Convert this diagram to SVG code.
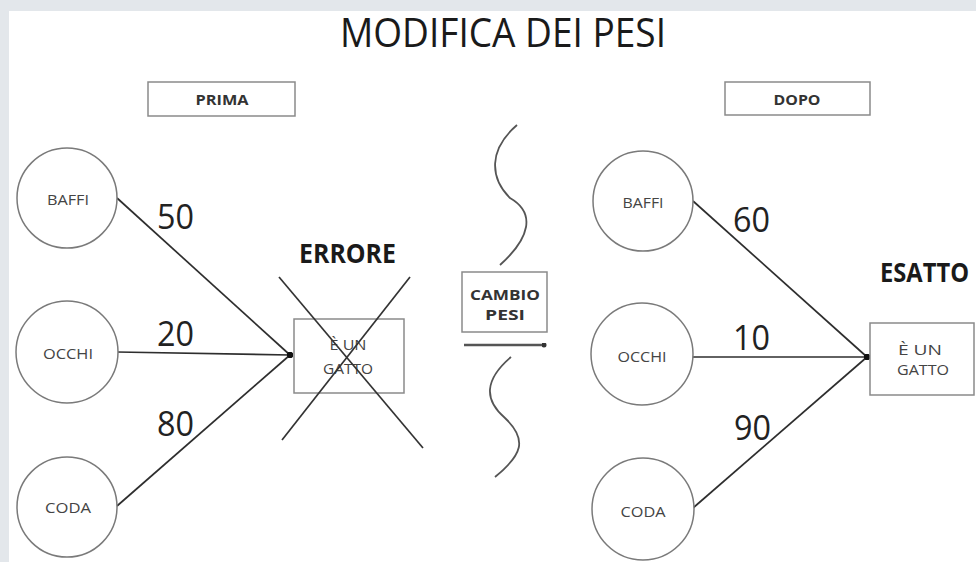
<svg xmlns="http://www.w3.org/2000/svg" width="976" height="562" viewBox="0 0 976 562">
<style>
.nodeC{fill:#fff;stroke:#7a7a7a;stroke-width:1.5}
.box{fill:#fff;stroke:#8a8a8a;stroke-width:1.5}
.lbl{font-family:"Open Sans","Liberation Sans",sans-serif;fill:#444;font-size:14.5px;text-anchor:middle}
.lblb{font-family:"Open Sans","Liberation Sans",sans-serif;fill:#333;font-size:15px;font-weight:bold;text-anchor:middle}
.num{font-family:"Open Sans","Liberation Sans",sans-serif;fill:#222;font-size:34px}
.big{font-family:"Open Sans","Liberation Sans",sans-serif;fill:#1a1a1a;font-size:26px;font-weight:bold}
.edge{stroke:#2e2e2e;stroke-width:1.7;fill:none}
.wave{stroke:#555;stroke-width:1.8;fill:none}
</style>
<defs>
<marker id="dot" viewBox="0 0 10 10" refX="5" refY="5" markerWidth="6" markerHeight="6" markerUnits="userSpaceOnUse"><circle cx="5" cy="5" r="5" fill="#111"/></marker>
<marker id="dot2" viewBox="0 0 10 10" refX="5" refY="5" markerWidth="5" markerHeight="5" markerUnits="userSpaceOnUse"><circle cx="5" cy="5" r="5" fill="#333"/></marker>
</defs>
<rect x="0" y="0" width="976" height="562" fill="#e3e7eb"/>
<rect x="9" y="11" width="967" height="551" fill="#fff"/>
<text x="503" y="47" font-family="'Open Sans','Liberation Sans',sans-serif" font-size="41" fill="#1a1a1a" text-anchor="middle" textLength="326" lengthAdjust="spacingAndGlyphs">MODIFICA DEI PESI</text>

<g id="prima"><rect class="box" x="148" y="82" width="147" height="34"/><text class="lblb" x="222" y="105" textLength="53" lengthAdjust="spacingAndGlyphs">PRIMA</text></g>
<g id="dopo"><rect class="box" x="725" y="82" width="145" height="33"/><text class="lblb" x="797" y="105" textLength="47" lengthAdjust="spacingAndGlyphs">DOPO</text></g>

<g id="connectors">
<line class="edge" x1="117" y1="198" x2="290" y2="355" marker-end="url(#dot)"/>
<line class="edge" x1="117" y1="352" x2="290" y2="355" marker-end="url(#dot)"/>
<line class="edge" x1="117" y1="506" x2="290" y2="355" marker-end="url(#dot)"/>
<line class="edge" x1="693" y1="201" x2="867" y2="357" marker-end="url(#dot)"/>
<line class="edge" x1="692" y1="357" x2="867" y2="357" marker-end="url(#dot)"/>
<line class="edge" x1="693" y1="508" x2="867" y2="357" marker-end="url(#dot)"/>
<line x1="464" y1="345" x2="544" y2="345" stroke="#555" stroke-width="2.4" marker-end="url(#dot2)"/>
</g>

<g id="baffi1"><circle class="nodeC" cx="67" cy="198" r="50"/><text class="lbl" x="68" y="205" textLength="42" lengthAdjust="spacingAndGlyphs">BAFFI</text></g>
<g id="occhi1"><circle class="nodeC" cx="67" cy="352" r="51"/><text class="lbl" x="68" y="359" textLength="50" lengthAdjust="spacingAndGlyphs">OCCHI</text></g>
<g id="coda1"><circle class="nodeC" cx="67" cy="507" r="50"/><text class="lbl" x="68" y="513" textLength="46" lengthAdjust="spacingAndGlyphs">CODA</text></g>

<g id="baffi2"><circle class="nodeC" cx="643" cy="201" r="50"/><text class="lbl" x="643" y="208" textLength="41" lengthAdjust="spacingAndGlyphs">BAFFI</text></g>
<g id="occhi2"><circle class="nodeC" cx="642" cy="354" r="51"/><text class="lbl" x="642" y="362" textLength="49" lengthAdjust="spacingAndGlyphs">OCCHI</text></g>
<g id="coda2"><circle class="nodeC" cx="643" cy="509" r="51"/><text class="lbl" x="643" y="517" textLength="45" lengthAdjust="spacingAndGlyphs">CODA</text></g>

<g id="w1"><text class="num" x="157" y="229" textLength="37" lengthAdjust="spacingAndGlyphs">50</text></g>
<g id="w2"><text class="num" x="157" y="346" textLength="37" lengthAdjust="spacingAndGlyphs">20</text></g>
<g id="w3"><text class="num" x="157" y="436" textLength="37" lengthAdjust="spacingAndGlyphs">80</text></g>
<g id="w4"><text class="num" x="733" y="232" textLength="37" lengthAdjust="spacingAndGlyphs">60</text></g>
<g id="w5"><text class="num" x="733" y="350" textLength="37" lengthAdjust="spacingAndGlyphs">10</text></g>
<g id="w6"><text class="num" x="734" y="440" textLength="37" lengthAdjust="spacingAndGlyphs">90</text></g>

<g id="gatto1">
<rect class="box" x="294" y="319" width="110" height="74"/>
<text class="lbl" x="348" y="350" font-size="15" textLength="37" lengthAdjust="spacingAndGlyphs">È UN</text>
<text class="lbl" x="348" y="374" font-size="15" textLength="50" lengthAdjust="spacingAndGlyphs">GATTO</text>
<line x1="279" y1="277" x2="423" y2="448" stroke="#333" stroke-width="1.7"/>
<line x1="410" y1="277" x2="282" y2="440" stroke="#333" stroke-width="1.7"/>
</g>
<text class="big" x="299" y="263" textLength="97" lengthAdjust="spacingAndGlyphs">ERRORE</text>

<g id="gatto2">
<rect class="box" x="870" y="323" width="104" height="72"/>
<text class="lbl" x="920" y="355" font-size="15" textLength="44" lengthAdjust="spacingAndGlyphs">È UN</text>
<text class="lbl" x="923" y="375" font-size="15" textLength="52" lengthAdjust="spacingAndGlyphs">GATTO</text>
</g>
<text class="big" x="880" y="282" textLength="89" lengthAdjust="spacingAndGlyphs">ESATTO</text>

<g id="cambio">
<path class="wave" d="M517,125 C488,150 490,178 510,198 C536,213 530,238 500,265"/>
<path class="wave" d="M511,357 C484,380 484,400 505,418 C528,440 522,455 495,477"/>
<rect class="box" x="462" y="272" width="85" height="60"/>
<text class="lblb" x="505" y="300" font-size="12" textLength="70" lengthAdjust="spacingAndGlyphs">CAMBIO</text>
<text class="lblb" x="505" y="320" font-size="12" textLength="40" lengthAdjust="spacingAndGlyphs">PESI</text>
</g>
</svg>
